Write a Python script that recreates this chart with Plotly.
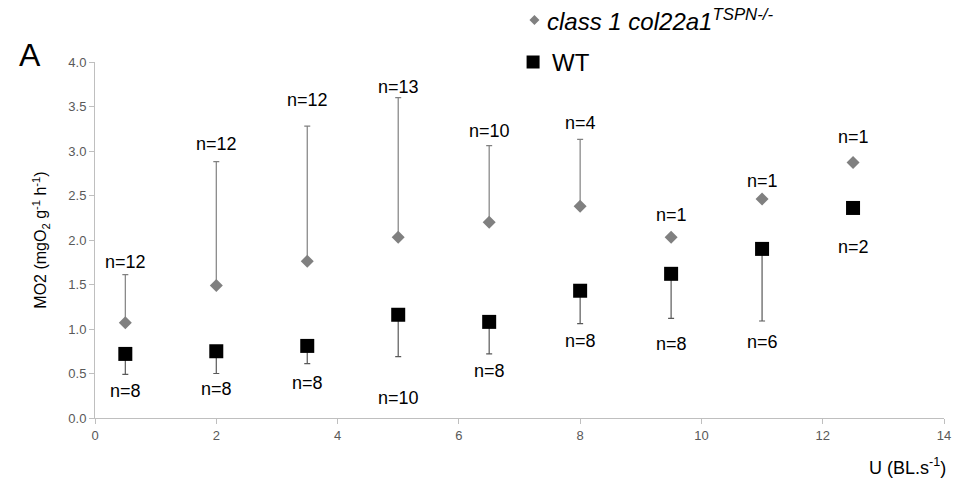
import plotly.graph_objects as go

# ---- data ----
speed = [0.5, 2, 3.5, 5, 6.5, 8, 9.5, 11, 12.5]

mut_mo2 = [1.07, 1.49, 1.76, 2.03, 2.20, 2.38, 2.03, 2.46, 2.87]
mut_err_plus = [0.54, 1.39, 1.52, 1.57, 0.86, 0.75, 0, 0, 0]
mut_n = ["n=12", "n=12", "n=12", "n=13", "n=10", "n=4", "n=1", "n=1", "n=1"]
mut_label_y = [1.75, 3.08, 3.57, 3.72, 3.22, 3.31, 2.28, 2.66, 3.16]

wt_mo2 = [0.72, 0.75, 0.81, 1.16, 1.08, 1.43, 1.62, 1.90, 2.36]
wt_err_minus = [0.23, 0.25, 0.20, 0.47, 0.36, 0.37, 0.50, 0.81, 0]
wt_n = ["n=8", "n=8", "n=8", "n=10", "n=8", "n=8", "n=8", "n=6", "n=2"]
wt_label_y = [0.30, 0.33, 0.39, 0.22, 0.53, 0.87, 0.83, 0.85, 1.92]

x_ticks = [0, 2, 4, 6, 8, 10, 12, 14]
y_ticks = [0.0, 0.5, 1.0, 1.5, 2.0, 2.5, 3.0, 3.5, 4.0]

FONT = "Liberation Sans, Arial, sans-serif"
GRAY = "#808080"
AXIS = "#bfbfbf"
TICK = "#595959"

fig = go.Figure()

fig.add_trace(go.Scatter(
    x=speed, y=mut_mo2, mode="markers", name="class 1 col22a1",
    marker=dict(symbol="diamond", size=10, color=GRAY),
    error_y=dict(type="data", symmetric=False, array=mut_err_plus,
                 arrayminus=[0] * len(speed), color=GRAY, thickness=1.2, width=3),
    showlegend=False,
))
fig.add_trace(go.Scatter(
    x=speed, y=wt_mo2, mode="markers", name="WT",
    marker=dict(symbol="square", size=14, color="black"),
    error_y=dict(type="data", symmetric=False, array=[0] * len(speed),
                 arrayminus=wt_err_minus, color="#595959", thickness=1.2, width=3),
    showlegend=False,
))

annotations = []
for xv, yv, t in zip(speed, mut_label_y, mut_n):
    annotations.append(dict(x=xv, y=yv, xref="x", yref="y", text=t, showarrow=False,
                            font=dict(family=FONT, size=18, color="black")))
for xv, yv, t in zip(speed, wt_label_y, wt_n):
    annotations.append(dict(x=xv, y=yv, xref="x", yref="y", text=t, showarrow=False,
                            font=dict(family=FONT, size=18, color="black")))

# panel letter
annotations.append(dict(x=-0.076, y=1.02, xref="paper", yref="paper", text="A",
                        showarrow=False, font=dict(family=FONT, size=32, color="black"),
                        xanchor="center", yanchor="middle"))
# axis titles
annotations.append(dict(x=-0.064, y=0.5, xref="paper", yref="paper",
                        text="MO2 (mgO<sub>2</sub> g<sup>-1</sup> h<sup>-1</sup>)",
                        textangle=-90, showarrow=False,
                        font=dict(family=FONT, size=16, color="black"),
                        xanchor="center", yanchor="middle"))
annotations.append(dict(x=1.005, y=-0.135, xref="paper", yref="paper",
                        text="U (BL.s<sup>-1</sup>)", showarrow=False,
                        font=dict(family=FONT, size=18, color="black"),
                        xanchor="right", yanchor="middle"))
# legend text
annotations.append(dict(x=0.530, y=1.118, xref="paper", yref="paper",
                        text="<i>class 1 col22a1<sup>TSPN-/-</sup></i>", showarrow=False,
                        font=dict(family=FONT, size=24, color="black"),
                        xanchor="left", yanchor="middle"))
annotations.append(dict(x=0.536, y=1.0, xref="paper", yref="paper",
                        text="WT", showarrow=False,
                        font=dict(family=FONT, size=24, color="black"),
                        xanchor="left", yanchor="middle"))

shapes = [
    dict(type="path", xref="paper", yref="paper", xsizemode="pixel", ysizemode="pixel",
         xanchor=0.5176, yanchor=1.118, path="M 0 5 L 5 0 L 0 -5 L -5 0 Z",
         fillcolor=GRAY, line=dict(width=0)),
    dict(type="rect", xref="paper", yref="paper", xsizemode="pixel", ysizemode="pixel",
         xanchor=0.516, yanchor=1.0, x0=-6.5, x1=6.5, y0=-6.5, y1=6.5,
         fillcolor="black", line=dict(width=0)),
]

fig.update_layout(
    width=955, height=477,
    margin=dict(l=87, r=14, t=54, b=67),
    plot_bgcolor="white", paper_bgcolor="white",
    font=dict(family=FONT, color=TICK),
    annotations=annotations, shapes=shapes,
    xaxis=dict(range=[0, 14], tickvals=x_ticks, ticktext=[str(v) for v in x_ticks],
               showgrid=False, zeroline=False, showline=True, linecolor=AXIS, linewidth=1,
               ticks="outside", ticklen=5, tickcolor=AXIS,
               tickfont=dict(family=FONT, size=13, color=TICK)),
    yaxis=dict(range=[0, 4], tickvals=y_ticks, ticktext=[f"{v:.1f}" for v in y_ticks],
               showgrid=False, zeroline=False, showline=True, linecolor=AXIS, linewidth=1,
               ticks="outside", ticklen=5, tickcolor=AXIS,
               tickfont=dict(family=FONT, size=13, color=TICK)),
)

fig.write_html("out.html")
